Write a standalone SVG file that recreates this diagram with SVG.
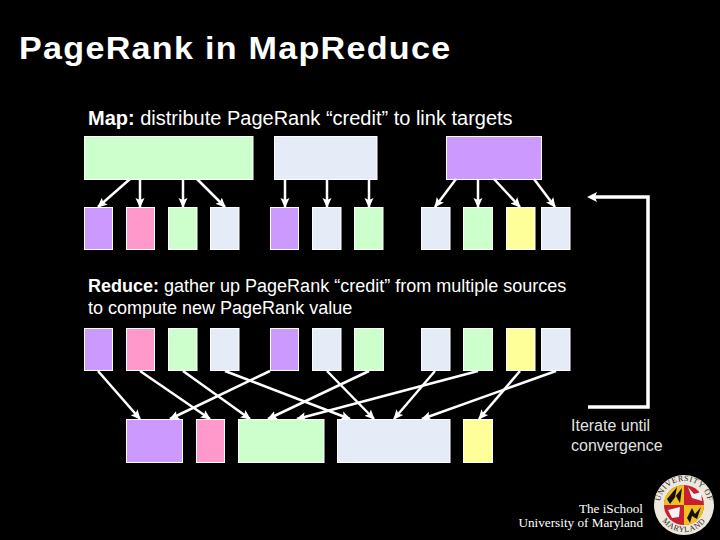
<svg xmlns="http://www.w3.org/2000/svg" width="720" height="540" viewBox="0 0 720 540">
<style>
.t{font-family:"Liberation Sans",Arial,sans-serif;fill:#fff}
.s{font-family:"Liberation Serif","Times New Roman",serif;fill:#fff;font-size:13.2px;text-anchor:end}
.r{font-family:"Liberation Serif","Times New Roman",serif;fill:#222;font-size:8px;letter-spacing:.6px}
rect.b{stroke:#fff;stroke-width:1}
.g{fill:#ccffcc}.l{fill:#e6ecf7}.p{fill:#cc99ff}.k{fill:#ff99cc}.y{fill:#ffff99}
#connectors line{stroke:#fff;stroke-width:2.500;marker-end:url(#a)}
</style>
<defs>
<marker id="a" markerUnits="userSpaceOnUse" markerWidth="10" markerHeight="10" refX="9" refY="5" orient="auto"><path d="M0 0.500L10 5L0 9.500L2 5Z" fill="#fff"/></marker>
<path id="ringTop" d="M660 505A24 24 0 0 1 708 505"/>
<path id="ringBot" d="M657 505A27 27 0 0 0 711 505"/>
</defs>
<rect width="720" height="540" fill="#000"/>
<text class="t" transform="translate(19 59) scale(1.1 1)" font-size="31" font-weight="bold" letter-spacing="1.170">PageRank in MapReduce</text>
<text class="t" x="88" y="125" font-size="20"><tspan font-weight="bold">Map:</tspan> distribute PageRank “credit” to link targets</text>
<text class="t" x="88" y="292" font-size="18"><tspan font-weight="bold">Reduce:</tspan> gather up PageRank “credit” from multiple sources</text>
<text class="t" x="88" y="314" font-size="18">to compute new PageRank value</text>
<g id="top-nodes">
<rect id="m1" class="b g" x="84.500" y="136.500" width="168.500" height="43"/>
<rect id="m2" class="b l" x="274.500" y="136.500" width="102.500" height="43"/>
<rect id="m3" class="b p" x="446.500" y="136.500" width="95" height="43"/>
</g>
<g id="map-out">
<rect class="b p" x="84.500" y="207.500" width="28" height="42"/>
<rect class="b k" x="126.500" y="207.500" width="28" height="42"/>
<rect class="b g" x="168.500" y="207.500" width="28.500" height="42"/>
<rect class="b l" x="210.500" y="207.500" width="28.500" height="42"/>
<rect class="b p" x="270.500" y="207.500" width="28" height="42"/>
<rect class="b l" x="312.500" y="207.500" width="28.500" height="42"/>
<rect class="b g" x="354.500" y="207.500" width="28.500" height="42"/>
<rect class="b l" x="421.500" y="207.500" width="28.500" height="42"/>
<rect class="b g" x="463.500" y="207.500" width="29" height="42"/>
<rect class="b y" x="506.500" y="207.500" width="28.500" height="42"/>
<rect class="b l" x="541.500" y="207.500" width="28.500" height="42"/>
</g>
<g id="reduce-in">
<rect class="b p" x="84.500" y="328.500" width="28" height="42"/>
<rect class="b k" x="126.500" y="328.500" width="28" height="42"/>
<rect class="b g" x="168.500" y="328.500" width="28.500" height="42"/>
<rect class="b l" x="210.500" y="328.500" width="28.500" height="42"/>
<rect class="b p" x="270.500" y="328.500" width="28" height="42"/>
<rect class="b l" x="312.500" y="328.500" width="28.500" height="42"/>
<rect class="b g" x="354.500" y="328.500" width="29" height="42"/>
<rect class="b l" x="421.500" y="328.500" width="28.500" height="42"/>
<rect class="b g" x="463.500" y="328.500" width="29" height="42"/>
<rect class="b y" x="506.500" y="328.500" width="28.500" height="42"/>
<rect class="b l" x="541.500" y="328.500" width="28.500" height="42"/>
</g>
<g id="reduce-out">
<rect class="b p" x="126.500" y="419.500" width="56" height="43"/>
<rect class="b k" x="196.500" y="419.500" width="28" height="43"/>
<rect class="b g" x="238.500" y="419.500" width="85.500" height="43"/>
<rect class="b l" x="337.500" y="419.500" width="112.500" height="43"/>
<rect class="b y" x="463.500" y="419.500" width="29" height="43"/>
</g>
<g id="connectors">
<line x1="130" y1="179" x2="98" y2="207"/><line x1="140" y1="179" x2="140" y2="207"/><line x1="183" y1="179" x2="183" y2="207"/><line x1="197" y1="179" x2="225" y2="207"/>
<line x1="285" y1="179" x2="285" y2="207"/><line x1="327" y1="179" x2="327" y2="207"/><line x1="369" y1="179" x2="369" y2="207"/>
<line x1="456" y1="179" x2="435" y2="207"/><line x1="478" y1="179" x2="478" y2="207"/><line x1="494" y1="179" x2="520" y2="207"/><line x1="534" y1="179" x2="555" y2="207"/>
<line x1="98" y1="371" x2="140" y2="419"/><line x1="140" y1="371" x2="210" y2="419"/><line x1="183" y1="371" x2="250" y2="419"/><line x1="225" y1="371" x2="350" y2="419"/>
<line x1="270" y1="371" x2="170" y2="419"/><line x1="327" y1="371" x2="374" y2="419"/><line x1="369" y1="371" x2="268" y2="419"/><line x1="435" y1="371" x2="394" y2="419"/>
<line x1="478" y1="371" x2="297" y2="419"/><line x1="520" y1="371" x2="479" y2="419"/><line x1="556" y1="371" x2="422" y2="419"/>
<path d="M588 407H648V197H592" fill="none" stroke="#fff" stroke-width="3.500"/>
<path d="M587 197L597 192L595 197L597 202Z" fill="#fff"/>
</g>
<text class="t" x="571" y="431" font-size="16" fill-opacity=".9">Iterate until</text>
<text class="t" x="571" y="451" font-size="16" fill-opacity=".9">convergence</text>
<text class="s" x="643" y="513">The iSchool</text>
<text class="s" x="643" y="527">University of Maryland</text>
<g id="logo">
<circle cx="684" cy="505" r="30" fill="#eee8dc"/>
<circle cx="684" cy="505" r="20" fill="#c8202f"/>
<path d="M684 485A20 20 0 0 0 664 505H684Z" fill="#f0c020"/>
<path d="M684 505V525A20 20 0 0 0 704 505Z" fill="#f0c020"/>
<path d="M667 499L677 487L675 497L682 488L680 503L676 496L670 504ZM687 518L692 508L695 514L701 507L697 519L692 516L690 523Z" fill="#111"/>
<path d="M688 487L694 494L701 492L702 501L692 498ZM668 510L680 507L679 517L672 518Z" fill="#f4f4f4"/>
<text class="r"><textPath href="#ringTop" startOffset="50%" text-anchor="middle">UNIVERSITY OF</textPath></text>
<text class="r"><textPath href="#ringBot" startOffset="50%" text-anchor="middle">MARYLAND</textPath></text>
</g>
</svg>
